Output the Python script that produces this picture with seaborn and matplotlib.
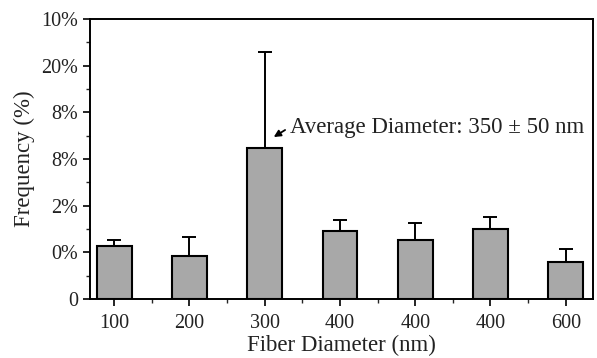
import numpy as np
import pandas as pd
import seaborn as sns
import matplotlib.pyplot as plt
from matplotlib.ticker import MultipleLocator

# dados
diametros = ["100", "200", "300", "400", "400", "400", "600"]
frequencia = [1.13, 0.91, 3.23, 1.46, 1.26, 1.50, 0.80]
erro_sup = [0.13, 0.42, 2.06, 0.23, 0.37, 0.26, 0.27]
y_rotulos = ["0", "0%", "2%", "8%", "8%", "20%", "10%"]

sns.set_theme(style="ticks")
plt.rcParams["font.family"] = ["Liberation Serif", "DejaVu Serif"]

df = pd.DataFrame({"pos": np.arange(len(diametros)), "freq": frequencia})

fig = plt.figure(figsize=(5.97, 3.58), dpi=100)
ax = fig.add_axes([0.151, 0.165, 0.842, 0.782])

sns.barplot(data=df, x="pos", y="freq", native_scale=True, width=0.46,
            color="#a8a8a8", saturation=1, edgecolor="black", linewidth=1.5, ax=ax)
ax.errorbar(df["pos"], df["freq"], yerr=[np.zeros(len(erro_sup)), erro_sup],
            fmt="none", ecolor="black", elinewidth=1.4, capsize=5, capthick=1.4)

ax.set_xlim(-0.32, 6.36)
ax.set_ylim(0, 6)
ax.set_xticks(df["pos"])
ax.set_xticklabels(diametros)
ax.xaxis.set_minor_locator(MultipleLocator(1, offset=0.5))
ax.set_yticks(range(len(y_rotulos)))
ax.set_yticklabels(y_rotulos)
ax.yaxis.set_minor_locator(MultipleLocator(0.5))

for s in ax.spines.values():
    s.set_visible(True)
    s.set_linewidth(1.4)
    s.set_color("black")
ax.tick_params(axis="both", which="major", direction="out", length=5, width=1.2,
               labelsize=14.5, colors="black", labelcolor="#222222")
ax.tick_params(axis="both", which="minor", direction="out", length=3, width=1.0)
ax.tick_params(axis="x", pad=6)

ax.set_xlabel("Fiber Diameter (nm)", fontsize=16.5, color="#222222", labelpad=1)
ax.set_ylabel("Frequency (%)", fontsize=16.5, color="#222222", labelpad=5)

ax.annotate("Average Diameter: 350 ± 50 nm", xy=(2.12, 3.47), xytext=(2.33, 3.68),
            fontsize=16.5, color="#222222", va="center", ha="left",
            arrowprops=dict(arrowstyle="-|>", color="black", lw=1.3,
                            mutation_scale=10, shrinkA=1, shrinkB=0,
                            relpos=(0, 0.5)))

plt.savefig("out.png", dpi=100)
